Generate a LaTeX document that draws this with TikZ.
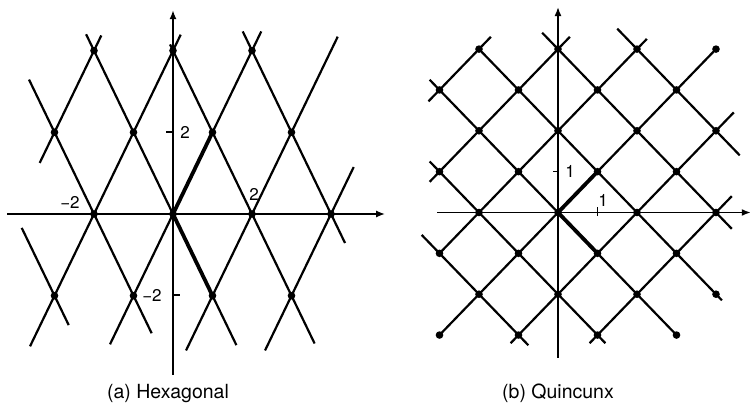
\documentclass[tikz,border=0pt]{standalone}
\usepackage{fontspec}
\setmainfont{TeX Gyre Heros}
\usetikzlibrary{arrows.meta}
\begin{document}
\begin{tikzpicture}[x=1pt,y=1pt,
  lat/.style={line width=2.2pt},
  basis/.style={line width=3.8pt},
  axisline/.style={line width=1.6pt,-{Latex[length=9pt,width=7pt]}},
  tickmark/.style={line width=1.4pt},
  latdot/.style={fill=black},
  lbl/.style={font=\fontsize{17}{17}\selectfont,inner sep=0pt},
  captext/.style={font=\fontsize{19.5}{19.5}\selectfont,inner sep=0pt,anchor=base}]
\useasboundingbox (0,0) rectangle (750,405);

% ---------------- (a) Hexagonal ----------------
\begin{scope}[shift={(173pt,191pt)},x=39.5pt,y=40.85pt]
  \draw[axisline] (-4.2,0) -- (5.37,0);
  \draw[axisline] (0,-3.94) -- (0,4.99);
  % lines of direction (1,2)
  \draw[lat] (-3.375,1.25) -- (-1.815,4.37);
  \draw[lat] (-3.62,-3.24) -- (0.195,4.39);
  \draw[lat] (-1.595,-3.19) -- (2.235,4.47);
  \draw[lat] (0.33,-3.34) -- (4.17,4.34);
  \draw[lat] (2.33,-3.34) -- (4.575,1.15);
  % lines of direction (1,-2)
  \draw[lat] (-3.83,-0.34) -- (-2.64,-2.72);
  \draw[lat] (-3.645,3.29) -- (-0.54,-2.92);
  \draw[lat] (-2.2,4.4) -- (1.605,-3.21);
  \draw[lat] (-0.075,4.15) -- (3.585,-3.17);
  \draw[lat] (1.765,4.47) -- (4.355,-0.71);
  % basis vectors
  \draw[basis] (0,0) -- (1,2);
  \draw[basis] (0,0) -- (1,-2);
  % lattice points
  \foreach \p in {(-2,4),(0,4),(2,4),(-3,2),(-1,2),(1,2),(3,2),
                  (-2,0),(0,0),(2,0),(4,0),(-3,-2),(-1,-2),(1,-2),(3,-2)}
    \fill[latdot] \p circle[radius=3.8pt];
\end{scope}
\draw[tickmark] (166,273) -- (173,273);
\draw[tickmark] (173,110) -- (180,110);
\node[lbl] (ha) at (185,273) {2};
\node[lbl] (hb) at (152,110) {−2};
\node[lbl] (hc) at (70,203) {−2};
\node[lbl] (hd) at (254,211) {2};
\node[captext] (capa) at (168,7) {(a) Hexagonal};

% ---------------- (b) Quincunx ----------------
\begin{scope}[shift={(558pt,192.5pt)},x=39.5pt,y=40.85pt]
  \draw[axisline] (-3.06,0) -- (4.88,0);
  \draw[axisline] (0,-3.56) -- (0,5.03);
  % lines of direction (1,1)
  \draw[lat] (-3.28,2.72) -- (-1.7,4.3);
  \draw[lat] (-3.25,0.75) -- (0.3,4.3);
  \draw[lat] (-3,-1) -- (2.25,4.25);
  \draw[lat] (-3,-3) -- (4,4);
  \draw[lat] (-1.2,-3.2) -- (4.45,2.45);
  \draw[lat] (0.8,-3.2) -- (4.4,0.4);
  % lines of direction (1,-1)
  \draw[lat] (1.5,4.5) -- (4.6,1.4);
  \draw[lat] (-0.4,4.4) -- (4.4,-0.4);
  \draw[lat] (-2,4) -- (4.15,-2.15);
  \draw[lat] (-3.25,3.25) -- (3,-3);
  \draw[lat] (-3.25,1.25) -- (1.2,-3.2);
  \draw[lat] (-3.45,-0.55) -- (-0.75,-3.25);
  % basis vectors
  \draw[basis] (0,0) -- (1,1);
  \draw[basis] (0,0) -- (1,-1);
  % lattice points
  \foreach \y in {4,2,0,-2} \foreach \x in {-2,0,2,4}
    \fill[latdot] (\x,\y) circle[radius=3.8pt];
  \foreach \y in {3,1,-1,-3} \foreach \x in {-3,-1,1,3}
    \fill[latdot] (\x,\y) circle[radius=3.8pt];
\end{scope}
\draw[tickmark] (553,233.5) -- (558,233.5);
\draw[tickmark] (597.5,189) -- (597.5,198);
\node[lbl] (qa) at (570,233.5) {1};
\node[lbl] (qb) at (603,205) {1};
\node[captext] (capb) at (558,7) {(b) Quincunx};
\end{tikzpicture}
\end{document}
